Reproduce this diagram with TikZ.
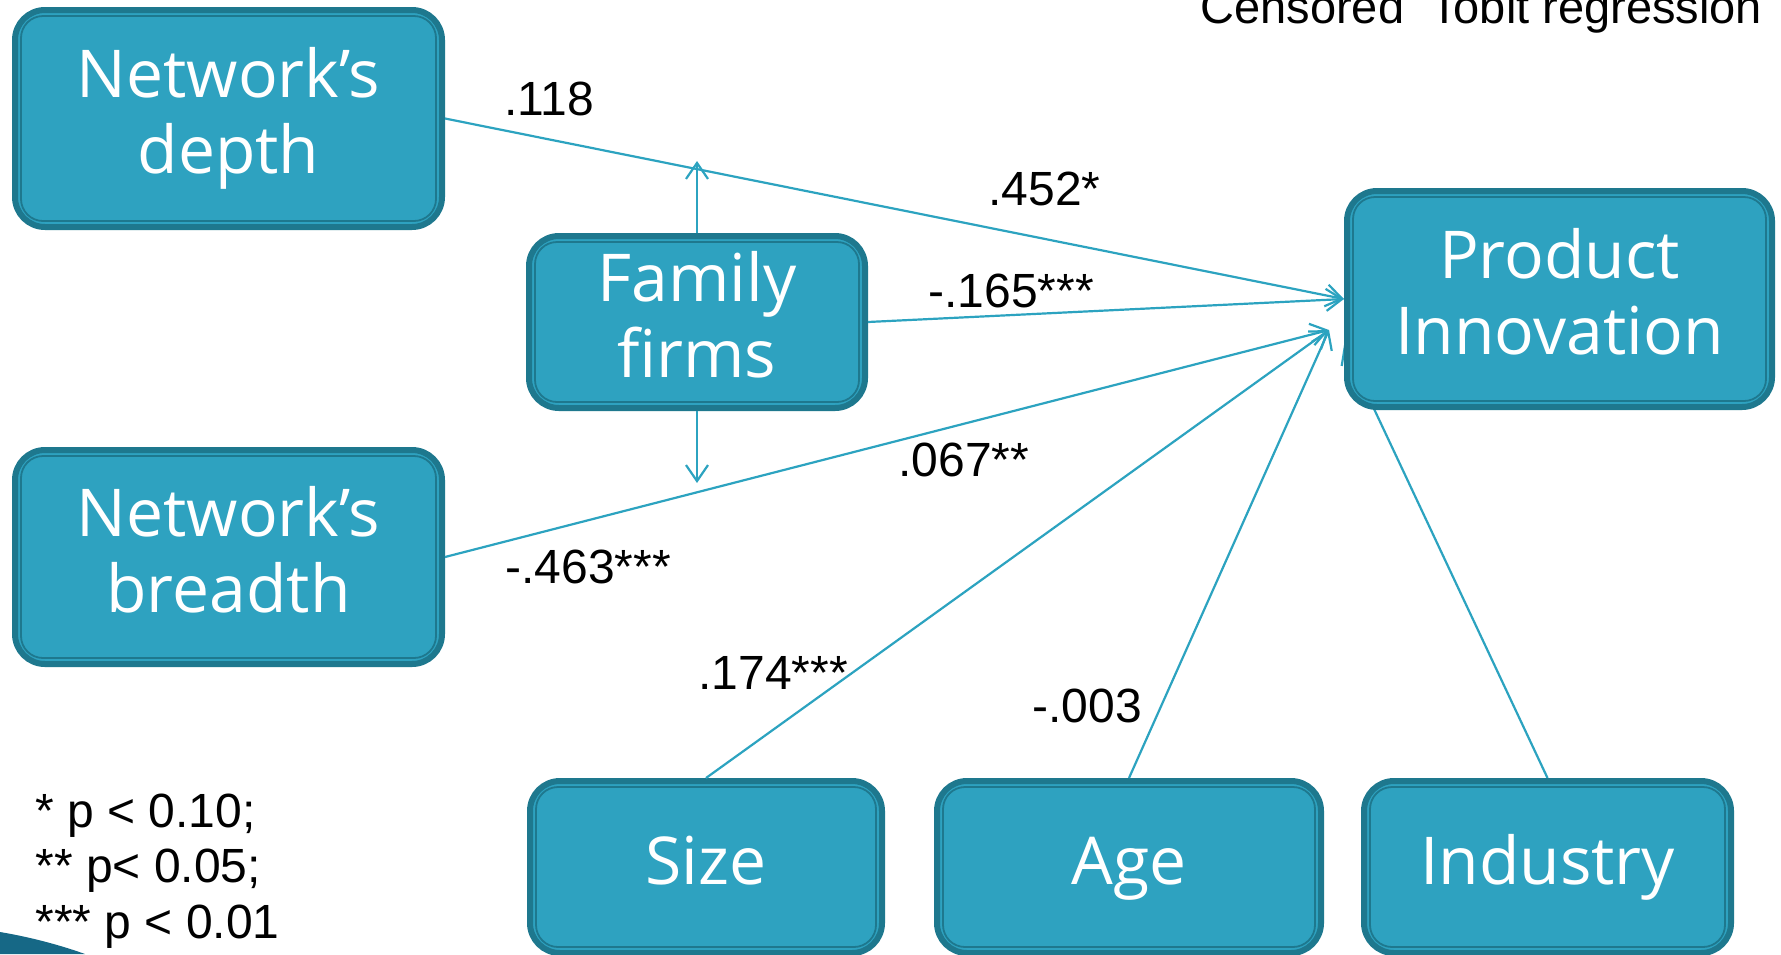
\documentclass[tikz,border=0pt]{standalone}
\usepackage{fontspec}
\setmainfont{Liberation Sans}
\newfontfamily\boxfont{Open Sans}
\usetikzlibrary{arrows.meta,backgrounds}
\definecolor{bfill}{RGB}{46,162,192}
\definecolor{bdark}{RGB}{30,120,142}
\definecolor{cline}{RGB}{44,163,192}
\definecolor{swoosh}{RGB}{22,104,134}
\newcommand\innerframe[1]{\draw[innerf] ([shift={(9,9)}]#1.north west) rectangle ([shift={(-9,-9)}]#1.south east);}
\begin{document}
\begin{tikzpicture}[x=0.5pt,y=-0.5pt,
  cbox/.style={draw=bdark, fill=bfill, line width=3pt, rounded corners=15pt, text=white, align=center, inner sep=0pt,
    font=\boxfont\fontsize{33}{38}\selectfont, execute at end node={\vphantom{dp}}},
  innerf/.style={draw=bdark, line width=0.9pt, rounded corners=11pt},
  arr/.style={draw=cline, line width=1.1pt, -{Straight Barb[length=8pt,width=11pt]}},
  lab/.style={font=\fontsize{24}{29}\selectfont, anchor=base west, inner sep=0pt}]
\useasboundingbox (0,0) rectangle (1781,954);
\begin{pgfonlayer}{background}
\fill[white] (0,0) rectangle (1781,954);
\end{pgfonlayer}
% boxes
\node[cbox, minimum width=213.5pt, minimum height=108.5pt] (depth) at (228.5,118.5) {Network’s\\depth};
\node[cbox, minimum width=213.5pt, minimum height=107pt] (breadth) at (228.5,557) {Network’s\\breadth};
\node[cbox, minimum width=168pt, minimum height=86pt] (family) at (697,322) {Family\\firms};
\node[cbox, minimum width=212.5pt, minimum height=108pt] (product) at (1559.5,299) {Product\\Innovation};
\node[cbox, minimum width=176pt, minimum height=86pt] (size) at (706,867) {Size};
\node[cbox, minimum width=192pt, minimum height=86pt] (age) at (1129,867) {Age};
\node[cbox, minimum width=183.5pt, minimum height=86pt] (industry) at (1547.5,867) {Industry};
\innerframe{depth}
\innerframe{breadth}
\innerframe{family}
\innerframe{product}
\innerframe{size}
\innerframe{age}
\innerframe{industry}
% auxiliary end points
\coordinate (pin) at ([shift={(-15,31)}]product.west);
\coordinate (pind) at ([shift={(0,46)}]product.west);
\coordinate (fup) at ([shift={(0,-72)}]family.north);
\coordinate (fdown) at ([shift={(0,72)}]family.south);
% connectors
\draw[arr] (depth.east) -- (product.west);
\draw[arr] (family.east) -- (product.west);
\draw[arr] (breadth.east) -- (pin);
\draw[arr] (size.north) -- (pin);
\draw[arr] (age.north) -- (pin);
\begin{pgfonlayer}{background}
\draw[arr] (industry.north) -- (pind);
\end{pgfonlayer}
\draw[arr] (family.north) -- (fup);
\draw[arr] (family.south) -- (fdown);
% labels
\node[lab, font=\fontsize{23.5}{28}\selectfont] (title) at (1200,23) {Censored\ \ Tobit regression};
\node[lab] (l1) at (504,115) {.118};
\node[lab] (l2) at (988,205) {.452*};
\node[lab] (l3) at (928,307) {-.165***};
\node[lab] (l4) at (898,476) {.067**};
\node[lab] (l5) at (505,583) {-.463***};
\node[lab] (l6) at (698,689) {.174***};
\node[lab] (l7) at (1032,722) {-.003};
\node[lab] (g1) at (35,827) {* p < 0.10;};
\node[lab] (g2) at (35,882) {** p< 0.05;};
\node[lab] (g3) at (35,938) {*** p < 0.01};
% decoration
\fill[swoosh] (0,932) .. controls (30,937) and (60,945) .. (85,954) -- (0,954) -- cycle;
\end{tikzpicture}
\end{document}
